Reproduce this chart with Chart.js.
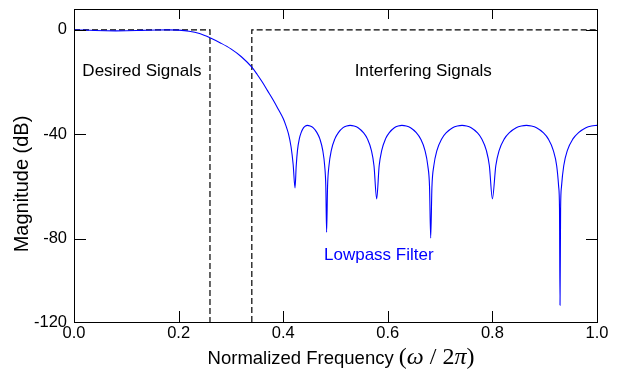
<!DOCTYPE html>
<html>
<head>
<meta charset="utf-8">
<script src="https://cdn.jsdelivr.net/npm/chart.js@4.4.1/dist/chart.umd.min.js"></script>
<style>
  html, body { margin: 0; padding: 0; background: #fff; }
  canvas { display: block; }
</style>
</head>
<body>
<canvas id="filterChart" width="617" height="370"></canvas>
<script>
// normalized frequency (w/2pi) and magnitude in dB
const freq = [
  0.00, 0.02, 0.04, 0.06, 0.08, 0.10, 0.12, 0.14, 0.16, 0.18,
  0.20, 0.22, 0.24, 0.26, 0.28, 0.30, 0.32, 0.34, 0.35, 0.36,
  0.37, 0.38, 0.39, 0.40, 0.405, 0.41, 0.415, 0.419, 0.4226,
  0.4249, 0.4273, 0.4308, 0.4343, 0.4390, 0.4425, 0.446,
  0.4516, 0.4571, 0.4645, 0.4701, 0.4756, 0.4793, 0.4815, 0.483,
  0.4848, 0.4875, 0.4920, 0.4988, 0.5055, 0.5145, 0.5213, 0.528,
  0.5356, 0.5432, 0.5534, 0.5610, 0.5686, 0.5736, 0.5787,
  0.5835, 0.5884, 0.5956, 0.6029, 0.6125, 0.6198, 0.627,
  0.6353, 0.6435, 0.6545, 0.6628, 0.6710, 0.6765, 0.6798, 0.682,
  0.6844, 0.6880, 0.6940, 0.7030, 0.7120, 0.7240, 0.7330, 0.742,
  0.7507, 0.7594, 0.7710, 0.7797, 0.7884, 0.7942, 0.800,
  0.8065, 0.8130, 0.8228, 0.8325, 0.8455, 0.8553, 0.865,
  0.8746, 0.8843, 0.8972, 0.9068, 0.9164, 0.9229, 0.9267, 0.9283, 0.9293,
  0.9304, 0.9321, 0.9364, 0.9434, 0.9540, 0.9647, 0.9788, 0.9894, 1.00
];
const magnitudeDb = [
  0, -0.1, -0.25, -0.35, -0.4, -0.35, -0.25, -0.12, -0.03, 0,
  -0.1, -0.5, -1.4, -3.0, -5.0, -7.3, -10.3, -14.3, -17.0, -20.0,
  -23.3, -26.6, -30.2, -34.0, -36.6, -39.8, -44.8, -51.5, -60.6,
  -52.1, -46.2, -41.8, -39.4, -37.5, -36.85, -36.6,
  -36.85, -37.5, -39.4, -41.8, -46.2, -52.1, -60.1, -77.6,
  -60.1, -52.1, -46.2, -41.8, -39.4, -37.5, -36.85, -36.6,
  -36.85, -37.5, -39.4, -41.8, -46.2, -52.1, -64.8,
  -52.1, -46.2, -41.8, -39.4, -37.5, -36.85, -36.6,
  -36.85, -37.5, -39.4, -41.8, -46.2, -52.1, -60.1, -79.8,
  -60.1, -52.1, -46.2, -41.8, -39.4, -37.5, -36.85, -36.6,
  -36.85, -37.5, -39.4, -41.8, -46.2, -52.1, -64.8,
  -52.1, -46.2, -41.8, -39.4, -37.5, -36.85, -36.6,
  -36.85, -37.5, -39.4, -41.8, -46.2, -52.1, -60.1, -68.6, -105.6,
  -68.6, -60.1, -52.1, -46.2, -41.8, -39.4, -37.5, -36.85, -36.6
];

// dashed masks: passband and stopband
const desiredFreq = [0, 0.26, 0.26];
const desiredDb = [0, 0, -112];
const interferingFreq = [0.34, 0.34, 1.0];
const interferingDb = [-112, 0, 0];

const xTickValues = [0, 0.2, 0.4, 0.6, 0.8, 1.0];
const yTickValues = [0, -40, -80, -112];
const yTickLabels = ['0', '-40', '-80', '-120'];

const SANS = '"Liberation Sans", Arial, Helvetica, sans-serif';
const SERIF = '"Liberation Serif", "Times New Roman", serif';

function toPoints(xs, ys) {
  return xs.map((v, i) => ({ x: v, y: ys[i] }));
}

// frame, inward ticks, notes and axis titles
const decorations = {
  id: 'decorations',
  afterDatasetsDraw(chart) {
    const { ctx, chartArea: a, scales: { x, y } } = chart;
    ctx.save();
    ctx.strokeStyle = '#000';
    ctx.lineWidth = 1;
    ctx.strokeRect(a.left + 0.5, a.top + 0.5, a.right - a.left, a.bottom - a.top);

    ctx.beginPath();
    xTickValues.slice(1, -1).forEach(v => {
      const px = Math.round(x.getPixelForValue(v)) + 0.5;
      ctx.moveTo(px, a.bottom);
      ctx.lineTo(px, a.bottom - 11);
      ctx.moveTo(px, a.top);
      ctx.lineTo(px, a.top + 10);
    });
    yTickValues.slice(0, -1).forEach(v => {
      const py = Math.round(y.getPixelForValue(v)) + 0.5;
      ctx.moveTo(a.left, py);
      ctx.lineTo(a.left + 12, py);
      ctx.moveTo(a.right, py);
      ctx.lineTo(a.right - 11, py);
    });
    ctx.stroke();

    ctx.textBaseline = 'alphabetic';
    ctx.textAlign = 'left';
    ctx.font = '17px ' + SANS;
    ctx.fillStyle = '#000';
    ctx.fillText('Desired Signals', x.getPixelForValue(0.016), y.getPixelForValue(-17.7));
    ctx.fillText('Interfering Signals', x.getPixelForValue(0.537), y.getPixelForValue(-17.7));
    ctx.fillStyle = '#0000ff';
    ctx.fillText('Lowpass Filter', x.getPixelForValue(0.478), y.getPixelForValue(-88.2));

    // y title
    ctx.fillStyle = '#000';
    ctx.save();
    ctx.translate(28, 184);
    ctx.rotate(-Math.PI / 2);
    ctx.textAlign = 'center';
    ctx.font = '20px ' + SANS;
    ctx.fillText('Magnitude (dB)', 0, 0);
    ctx.restore();

    // x title with math part
    const parts = [
      ['Normalized Frequency ', '18.5px ' + SANS],
      ['(', '24px ' + SERIF],
      ['\u03C9', 'italic 24px ' + SERIF],
      [' / ', '24px ' + SERIF],
      ['2', '24px ' + SERIF],
      ['\u03C0', 'italic 24px ' + SERIF],
      [')', '24px ' + SERIF]
    ];
    let total = 0;
    parts.forEach(p => { ctx.font = p[1]; total += ctx.measureText(p[0]).width; });
    let cx = 341 - total / 2;
    parts.forEach(p => {
      ctx.font = p[1];
      ctx.fillText(p[0], cx, 364);
      cx += ctx.measureText(p[0]).width;
    });
    ctx.restore();
  }
};

new Chart(document.getElementById('filterChart'), {
  type: 'line',
  data: {
    datasets: [
      {
        data: toPoints(freq, magnitudeDb),
        borderColor: '#0000ff',
        borderWidth: 1.1,
        pointRadius: 0,
        cubicInterpolationMode: 'monotone',
        fill: false
      },
      {
        data: toPoints(desiredFreq, desiredDb),
        borderColor: '#000',
        borderWidth: 1.2,
        borderDash: [6, 3],
        pointRadius: 0,
        fill: false
      },
      {
        data: toPoints(interferingFreq, interferingDb),
        borderColor: '#000',
        borderWidth: 1.2,
        borderDash: [6, 3],
        pointRadius: 0,
        fill: false
      }
    ]
  },
  options: {
    responsive: false,
    animation: false,
    layout: { padding: { top: 9, right: 20, left: 0, bottom: 0 } },
    plugins: { legend: { display: false }, tooltip: { enabled: false } },
    scales: {
      x: {
        type: 'linear',
        min: 0,
        max: 1,
        grid: { display: false, drawTicks: false },
        border: { display: false },
        afterBuildTicks: axis => { axis.ticks = xTickValues.map(v => ({ value: v })); },
        afterFit: axis => {
          axis.height = 48;
          axis.paddingLeft = 0;
          axis.paddingRight = 0;
        },
        ticks: {
          padding: 2,
          color: '#000',
          font: { family: SANS, size: 16.5 },
          maxRotation: 0,
          callback: v => v.toFixed(1)
        }
      },
      y: {
        type: 'linear',
        min: -112,
        max: 8,
        grid: { display: false, drawTicks: false },
        border: { display: false },
        afterBuildTicks: axis => { axis.ticks = yTickValues.map(v => ({ value: v })); },
        afterFit: axis => {
          axis.width = 74;
          axis.paddingTop = 0;
          axis.paddingBottom = 0;
        },
        ticks: {
          padding: 7,
          color: '#000',
          font: { family: SANS, size: 16.5 },
          callback: (v, i) => yTickLabels[i]
        }
      }
    }
  },
  plugins: [decorations]
});
</script>
</body>
</html>
